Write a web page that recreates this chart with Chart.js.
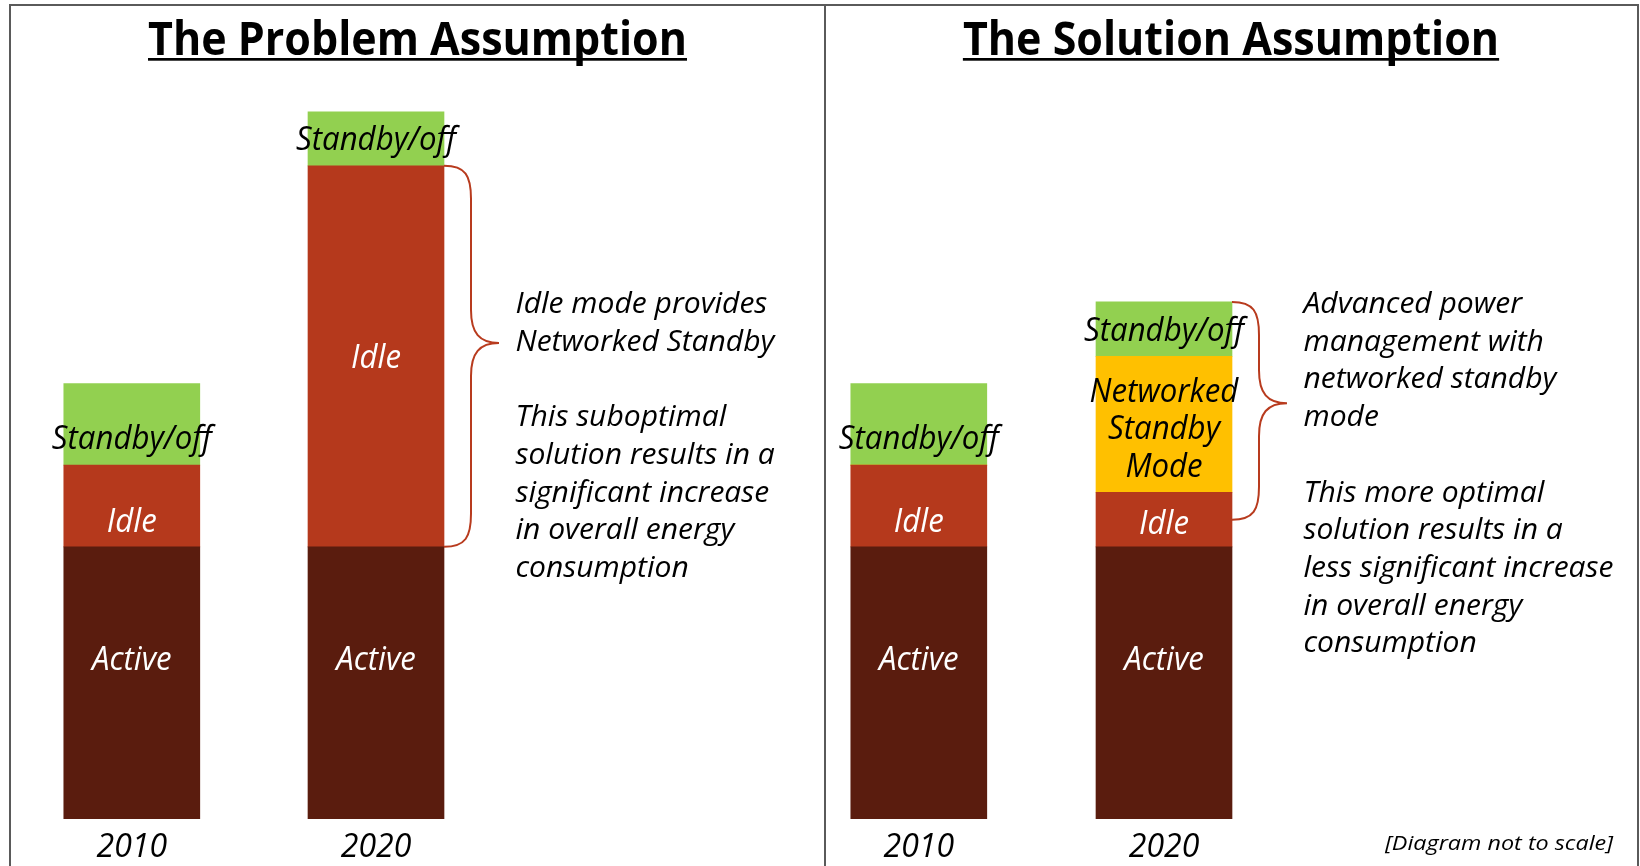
<!DOCTYPE html>
<html><head><meta charset="utf-8">
<script src="https://cdn.jsdelivr.net/npm/chart.js@4.4.1/dist/chart.umd.min.js"></script>
<style>
html,body{margin:0;padding:0;background:#fff;width:1640px;height:866px;overflow:hidden;}
.frame{position:absolute;left:9px;top:4px;width:1626px;height:880px;border:2px solid #5a5a5a;border-bottom:none;}
.divider{position:absolute;left:824px;top:4px;width:2px;height:870px;background:#5a5a5a;}
canvas{position:absolute;left:0;top:0;}
</style></head><body>
<div class="frame"></div><div class="divider"></div>
<canvas id="cA" width="1640" height="879"></canvas>
<canvas id="cB" width="1640" height="879"></canvas>
<script>
// ---- data ----
const years = ['2010', '2020'];
const problemActive = [100, 100];
const problemIdle = [30, 140];
const problemStandby = [30, 20];
const solutionActive = [100, 100];
const solutionIdle = [30, 20];
const solutionNetworked = [0, 50];
const solutionStandby = [30, 20];
const yMax = 260;
const problemTitle = 'The Problem Assumption';
const solutionTitle = 'The Solution Assumption';
const problemNote = ['Idle mode provides', 'Networked Standby', '', 'This suboptimal', 'solution results in a', 'significant increase', 'in overall energy', 'consumption'];
const solutionNote = ['Advanced power', 'management with', 'networked standby', 'mode', '', 'This more optimal', 'solution results in a', 'less significant increase', 'in overall energy', 'consumption'];
const footnote = '[Diagram not to scale]';

// ---- styles ----
const FAM = '"Open Sans", "Noto Sans", sans-serif';
const C_ACTIVE = '#5A1C0E', C_IDLE = '#B5391C', C_STANDBY = '#92D050', C_NSM = '#FFC000', C_BRACE = '#B83B1E';

function fitScale(ctx, font, sample, target) {
  ctx.save(); ctx.font = font; const w = ctx.measureText(sample).width; ctx.restore();
  return target / w;
}
function drawScaled(ctx, text, x, y, sx, align, font, color) {
  ctx.save();
  ctx.font = font; ctx.fillStyle = color;
  ctx.translate(x, y); ctx.scale(sx, 1);
  ctx.textAlign = align; ctx.textBaseline = 'alphabetic';
  ctx.fillText(text, 0, 0);
  ctx.restore();
  ctx.save(); ctx.font = font; const w = ctx.measureText(text).width * sx; ctx.restore();
  return w;
}
function drawBrace(ctx, x0, yTop, yBot) {
  const d1 = 27, d2 = 55, r = 33;
  const yTip = yTop + (yBot - yTop) * 0.465;
  ctx.save();
  ctx.strokeStyle = C_BRACE; ctx.lineWidth = 2;
  ctx.beginPath();
  ctx.moveTo(x0, yTop);
  ctx.bezierCurveTo(x0 + d1 * 0.8, yTop, x0 + d1, yTop + r * 0.3, x0 + d1, yTop + r);
  ctx.lineTo(x0 + d1, yTip - r);
  ctx.bezierCurveTo(x0 + d1, yTip - r * 0.3, x0 + d1 + (d2 - d1) * 0.3, yTip, x0 + d2, yTip);
  ctx.bezierCurveTo(x0 + d1 + (d2 - d1) * 0.3, yTip, x0 + d1, yTip + r * 0.3, x0 + d1, yTip + r);
  ctx.lineTo(x0 + d1, yBot - r);
  ctx.bezierCurveTo(x0 + d1, yBot - r * 0.3, x0 + d1 * 0.8, yBot, x0, yBot);
  ctx.stroke();
  ctx.restore();
}

const decor = {
  id: 'decor',
  afterDatasetsDraw(chart, args, o) {
    const ctx = chart.ctx;
    const ys = chart.scales.y;
    // segment labels
    const labelFont = 'italic 33px ' + FAM;
    const lsx = fitScale(ctx, labelFont, 'Standby/off', 160);
    chart.data.datasets.forEach((ds, di) => {
      const meta = chart.getDatasetMeta(di);
      meta.data.forEach((el, i) => {
        if (!ds.data[i]) return;
        const cy = (el.y + el.base) / 2 + (ds.labelShift ? ds.labelShift[i] : 0);
        const lines = ds.lines;
        const lh = 37.5;
        const first = cy - (lines.length - 1) * lh / 2 + 11.8;
        lines.forEach((t, k) => drawScaled(ctx, t, el.x, first + k * lh, lsx, 'center', labelFont, ds.labelColor));
      });
    });
    // title
    const tFont = 'bold 46.5px ' + FAM;
    const tsx = fitScale(ctx, tFont, 'The Problem Assumption', 539);
    const tw = drawScaled(ctx, o.title, o.titleX, 55, tsx, 'center', tFont, '#000');
    ctx.fillStyle = '#000';
    ctx.fillRect(o.titleX - tw / 2, 58, tw, 2.7);
    // brace
    const el = chart.getDatasetMeta(0).data[1];
    const xr = el.x + el.width / 2;
    drawBrace(ctx, xr, ys.getPixelForValue(o.braceTo), ys.getPixelForValue(o.braceFrom));
    // note
    const nFont = 'italic 29px ' + FAM;
    const nsx = fitScale(ctx, nFont, 'less significant increase', 310);
    o.note.forEach((t, k) => { if (t) drawScaled(ctx, t, xr + 71.5, 313 + k * 37.7, nsx, 'left', nFont, '#000'); });
    if (o.footnote) {
      const fFont = 'italic 20px ' + FAM;
      const fsx = fitScale(ctx, fFont, footnote, 228);
      drawScaled(ctx, o.footnote, 1613, 849.5, fsx, 'right', fFont, '#000');
    }
  }
};

function makeChart(id, datasets, padL, padR, decorOpts) {
  return new Chart(document.getElementById(id), {
    type: 'bar',
    data: { labels: years, datasets },
    plugins: [decor],
    options: {
      responsive: false, animation: false, devicePixelRatio: 1,
      layout: { padding: { left: padL, right: padR, top: 111.4, bottom: 1.6 } },
      datasets: { bar: { barThickness: 136, borderWidth: 0 } },
      scales: {
        x: { stacked: true, grid: { display: false, drawTicks: false }, border: { display: false },
             ticks: { color: '#000', padding: 10, font: { family: FAM, size: 32, style: 'italic', lineHeight: 1.2 } } },
        y: { stacked: true, display: false, min: 0, max: yMax }
      },
      plugins: { legend: { display: false }, tooltip: { enabled: false }, decor: decorOpts }
    }
  });
}

makeChart('cA', [
  { label: 'Active', data: problemActive, backgroundColor: C_ACTIVE, lines: ['Active'], labelColor: '#fff', labelShift: [-25, -25] },
  { label: 'Idle', data: problemIdle, backgroundColor: C_IDLE, lines: ['Idle'], labelColor: '#fff', labelShift: [14, 0] },
  { label: 'Standby/off', data: problemStandby, backgroundColor: C_STANDBY, lines: ['Standby/off'], labelColor: '#000', labelShift: [12.5, 0] }
], 9.7, 1640 - 498.1, {
  title: problemTitle, titleX: 417.5, note: problemNote,
  braceFrom: problemActive[1], braceTo: problemActive[1] + problemIdle[1]
});

makeChart('cB', [
  { label: 'Active', data: solutionActive, backgroundColor: C_ACTIVE, lines: ['Active'], labelColor: '#fff', labelShift: [-25, -25] },
  { label: 'Idle', data: solutionIdle, backgroundColor: C_IDLE, lines: ['Idle'], labelColor: '#fff', labelShift: [14, 3] },
  { label: 'Networked Standby Mode', data: solutionNetworked, backgroundColor: C_NSM, lines: ['Networked', 'Standby', 'Mode'], labelColor: '#000', labelShift: [0, 3] },
  { label: 'Standby/off', data: solutionStandby, backgroundColor: C_STANDBY, lines: ['Standby/off'], labelColor: '#000', labelShift: [12.5, 0] }
], 796.2, 1640 - 1286.6, {
  title: solutionTitle, titleX: 1231, note: solutionNote, footnote: footnote,
  braceFrom: solutionActive[1] + solutionIdle[1] / 2,
  braceTo: solutionActive[1] + solutionIdle[1] + solutionNetworked[1] + solutionStandby[1]
});
</script>
</body></html>
